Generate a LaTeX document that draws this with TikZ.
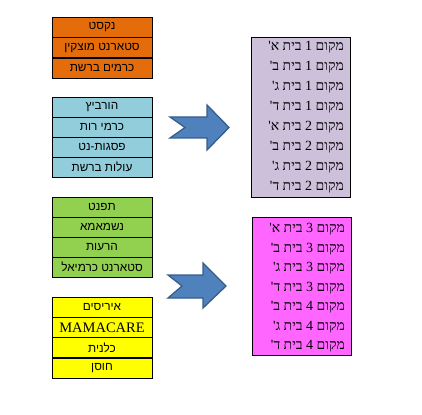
\documentclass[tikz,border=0pt]{standalone}
\usepackage{xcolor}
\usepackage{fontspec}
\usepackage{tikz}
\usetikzlibrary{positioning}
\TeXXeTstate=1
\newfontfamily\hebsans[Script=Hebrew]{Liberation Sans}
\newfontfamily\hebserif[Script=Hebrew]{Liberation Serif}
\definecolor{boxorange}{HTML}{E46C0A}
\definecolor{boxblue}{HTML}{92CDDC}
\definecolor{boxgreen}{HTML}{92D050}
\definecolor{boxyellow}{HTML}{FFFF00}
\definecolor{boxlilac}{HTML}{CCC0DA}
\definecolor{boxpink}{HTML}{FF66FF}
\definecolor{arrowfill}{HTML}{4F81BD}
\definecolor{arrowline}{HTML}{385D8A}
\tikzset{
  cell/.style={rectangle, draw, text=black, minimum width=100pt, minimum height=20pt, inner sep=0pt, font=\hebsans\fontsize{11.8}{13}\selectfont},
  placebox/.style={rectangle, draw, minimum width=99pt, inner sep=0pt},
  place/.style={anchor=east, inner sep=0pt, font=\hebserif\fontsize{14}{16}\selectfont},
  blockarrow/.style={fill=arrowfill, draw=arrowline, line width=1.3pt, line join=miter}
}
\newcommand{\heb}[1]{\beginR #1\endR}
\begin{document}
\begin{tikzpicture}[x=1pt,y=-1pt]
\useasboundingbox (0,0) rectangle (422,414);

% orange group
\node[cell, fill=boxorange] (o1) at (102,27.3) {\heb{נקסט}};
\node[cell, fill=boxorange] (o2) at (102,47.6) {\heb{סטארנט מוצקין}};
\node[cell, fill=boxorange] (o3) at (102,67.9) {\heb{כרמים ברשת}};

% blue group
\node[cell, fill=boxblue] (b1) at (102,107) {\heb{הורביץ}};
\node[cell, fill=boxblue] (b2) at (102,127) {\heb{כרמי רות}};
\node[cell, fill=boxblue] (b3) at (102,147) {\heb{פסגות-נט}};
\node[cell, fill=boxblue] (b4) at (102,167) {\heb{עולות ברשת}};

% green group
\node[cell, fill=boxgreen] (g1) at (102,207) {\heb{תפנט}};
\node[cell, fill=boxgreen] (g2) at (102,227) {\heb{נשמאמא}};
\node[cell, fill=boxgreen] (g3) at (102,247) {\heb{הרעות}};
\node[cell, fill=boxgreen] (g4) at (102,267) {\heb{סטארנט כרמיאל}};

% yellow group
\node[cell, fill=boxyellow] (y1) at (102,307) {\heb{איריסים}};
\node[cell, fill=boxyellow, font=\hebserif\fontsize{14.5}{16}\selectfont] (y2) at (102,327.3) {MAMACARE};
\node[cell, fill=boxyellow] (y3) at (102,347.6) {\heb{כלנית}};
\node[cell, fill=boxyellow] (y4) at (102,367.9) {\heb{חוסן}};

% arrows
\draw[blockarrow] (170,117) -- (207,117) -- (207,105) -- (229,127.5) -- (207,150)
  -- (207,138) -- (170,138) -- (185,127.5) -- cycle;
\draw[blockarrow] (168,275) -- (203,275) -- (203,263) -- (226,286) -- (203,308)
  -- (203,298) -- (168,298) -- (182,286) -- cycle;

% places 1-2
\node[placebox, fill=boxlilac, minimum height=160pt] (p1) at (301,117) {};
\node[place] (p1a) at (344,47) {\heb{מקום 1 בית א'}};
\node[place] (p1b) at (344,67) {\heb{מקום 1 בית ב'}};
\node[place] (p1c) at (344,87) {\heb{מקום 1 בית ג'}};
\node[place] (p1d) at (344,107) {\heb{מקום 1 בית ד'}};
\node[place] (p1e) at (344,127) {\heb{מקום 2 בית א'}};
\node[place] (p1f) at (344,147) {\heb{מקום 2 בית ב'}};
\node[place] (p1g) at (344,167) {\heb{מקום 2 בית ג'}};
\node[place] (p1h) at (344,187) {\heb{מקום 2 בית ד'}};

% places 3-4
\node[placebox, fill=boxpink, minimum height=138pt] (p2) at (302,286) {};
\node[place] (p2a) at (345,229.5) {\heb{מקום 3 בית א'}};
\node[place] (p2b) at (345,249) {\heb{מקום 3 בית ב'}};
\node[place] (p2c) at (345,268.5) {\heb{מקום 3 בית ג'}};
\node[place] (p2d) at (345,288) {\heb{מקום 3 בית ד'}};
\node[place] (p2e) at (345,307.5) {\heb{מקום 4 בית ב'}};
\node[place] (p2f) at (345,327) {\heb{מקום 4 בית ג'}};
\node[place] (p2g) at (345,346.5) {\heb{מקום 4 בית ד'}};

\end{tikzpicture}
\end{document}
